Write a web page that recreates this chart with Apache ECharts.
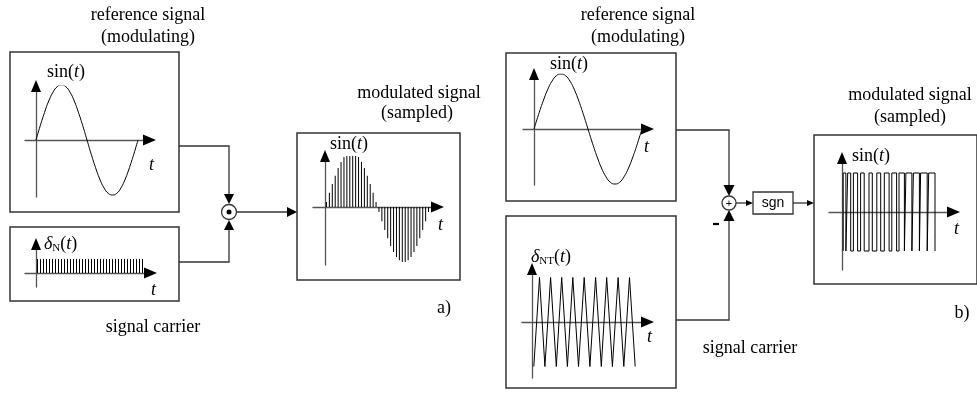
<!DOCTYPE html>
<html>
<head>
<meta charset="utf-8">
<script src="https://cdn.jsdelivr.net/npm/echarts@6/dist/echarts.min.js"></script>
<style>html,body{margin:0;background:#fff}#chart{width:977px;height:393px}</style>
</head>
<body>
<div id="chart"></div>
<script>
"use strict"

// reference (modulating) sine, one period in degrees
const sineDeg = [0,15,30,45,60,75,90,105,120,135,150,165,180,195,210,225,240,255,270,285,300,315,330,345,360];
const sineVal = [0,0.26,0.5,0.71,0.87,0.97,1,0.97,0.87,0.71,0.5,0.26,0,-0.26,-0.5,-0.71,-0.87,-0.97,-1,-0.97,-0.87,-0.71,-0.5,-0.26,0];

// impulse positions of the carrier / sampled signal
const pulseDeg = [5,15,25,35,45,55,65,75,85,95,105,115,125,135,145,155,165,175,
                  185,195,205,215,225,235,245,255,265,275,285,295,305,315,325,335,345,355];
const carrierVal = [1,1,1,1,1,1,1,1,1,1,1,1,1,1,1,1,1,1,1,1,1,1,1,1,1,1,1,1,1,1,1,1,1,1,1,1];
const sampledVal = [0.09,0.26,0.42,0.57,0.71,0.82,0.91,0.97,1,1,0.97,0.91,0.82,0.71,0.57,0.42,0.26,0.09,
                    -0.09,-0.26,-0.42,-0.57,-0.71,-0.82,-0.91,-0.97,-1,-1,-0.97,-0.91,-0.82,-0.71,-0.57,-0.42,-0.26,-0.09];

// triangle carrier vertices
const triDeg = [6,25,43,62,81,99,118,136,155,174,193,212,231,249,268,287,306,325,344];
const triVal = [-1,1,-1,1,-1,1,-1,1,-1,1,-1,1,-1,1,-1,1,-1,1,-1];

// switching instants of the sgn output (starts low, first edge goes up)
const pwmEdges = [4,13,19,29,38,52,62,74,90,101,116,129,141,157,166,182,190,208,213,233,238,258,262,284,289,310];

// pixel frame of each small plot: axis extents, origin, px per unit
const panels = [
    { left: 25,  right: 149, top: 86,  bottom: 197, ox: 36,  oy: 140, sx: 102 / 360, sy: 55 },
    { left: 25,  right: 150, top: 244, bottom: 287, ox: 36,  oy: 273, sx: 0.3, sy: 14 },
    { left: 313, right: 437, top: 156, bottom: 265, ox: 325, oy: 207, sx: 105 / 360, sy: 55 },
    { left: 523, right: 647, top: 74,  bottom: 185, ox: 534, oy: 129, sx: 0.3, sy: 55 },
    { left: 522, right: 647, top: 269, bottom: 378, ox: 532, oy: 322, sx: 0.3, sy: 44.5 },
    { left: 829, right: 953, top: 158, bottom: 270, ox: 842, oy: 212, sx: 0.3, sy: 39 }
];

const axisColor = "#555", wireColor = "#333";
const serif = "Liberation Serif";

const axisLine = { onZero: true, lineStyle: { color: axisColor, width: 1.3 } };

const grids = panels.map(p => ({ left: p.left, top: p.top, width: p.right - p.left, height: p.bottom - p.top }));
const xAxes = panels.map((p, i) => ({
    type: "value", gridIndex: i,
    min: (p.left - p.ox) / p.sx, max: (p.right - p.ox) / p.sx,
    axisLine, axisTick: { show: false }, axisLabel: { show: false }, splitLine: { show: false }
}));
const yAxes = panels.map((p, i) => ({
    type: "value", gridIndex: i,
    min: -(p.bottom - p.oy) / p.sy, max: (p.oy - p.top) / p.sy,
    axisLine, axisTick: { show: false }, axisLabel: { show: false }, splitLine: { show: false }
}));

const pwmData = [[pwmEdges[0], -1]].concat(pwmEdges.map((t, i) => [t, i % 2 === 0 ? 1 : -1]));

const sig = { color: "#000", width: 1 };
const series = [
    { type: "line", xAxisIndex: 0, yAxisIndex: 0, smooth: true, showSymbol: false, lineStyle: sig,
      data: sineDeg.map((d, i) => [d, sineVal[i]]) },
    { type: "bar", xAxisIndex: 1, yAxisIndex: 1, barWidth: 1, itemStyle: { color: "#000" },
      data: pulseDeg.map((d, i) => [d, carrierVal[i]]) },
    { type: "bar", xAxisIndex: 2, yAxisIndex: 2, barWidth: 1, itemStyle: { color: "#000" },
      data: pulseDeg.map((d, i) => [d, sampledVal[i]]) },
    { type: "line", xAxisIndex: 3, yAxisIndex: 3, smooth: true, showSymbol: false, lineStyle: sig,
      data: sineDeg.map((d, i) => [d, sineVal[i]]) },
    { type: "line", xAxisIndex: 4, yAxisIndex: 4, showSymbol: false, lineStyle: sig,
      data: triDeg.map((d, i) => [d, triVal[i]]) },
    { type: "line", xAxisIndex: 5, yAxisIndex: 5, step: "end", showSymbol: false, lineStyle: sig,
      data: pwmData }
];

// ---- block diagram decoration ----
function box(x, y, w, h, lw)
{
    return { type: "rect", shape: { x, y, width: w, height: h }, style: { fill: null, stroke: wireColor, lineWidth: lw || 1.5 }, z: 1 };
}
function wire(points)
{
    return { type: "polyline", shape: { points }, style: { fill: null, stroke: wireColor, lineWidth: 1.3 }, z: 1 };
}
function head(x, y, dir, len, w)
{
    const h = w / 2;
    let pts;
    if (dir === "down") pts = [[x, y], [x - h, y - len], [x + h, y - len]];
    else if (dir === "up") pts = [[x, y], [x - h, y + len], [x + h, y + len]];
    else pts = [[x, y], [x - len, y - h], [x - len, y + h]];
    return { type: "polygon", shape: { points: pts }, style: { fill: "#000" }, z: 2 };
}
function label(text, x, y, opt)
{
    opt = opt || {};
    return {
        type: "text", z: 3,
        style: Object.assign({ text, x, y, fill: "#000", font: `${opt.size || 18}px "${serif}"`,
            align: opt.align || "center", verticalAlign: "middle" }, opt.extra || {})
    };
}
const rich = {
    n: { fontFamily: serif, fontSize: 18, lineHeight: 20 },
    i: { fontFamily: serif, fontSize: 18, fontStyle: "italic", lineHeight: 20 },
    s: { fontFamily: serif, fontSize: 11, lineHeight: 11, verticalAlign: "bottom" }
};
function math(text, x, y)
{
    return { type: "text", z: 3, style: { text, x, y, rich, fill: "#000", align: "left", verticalAlign: "middle" } };
}

// black arrowheads at the end of every plot axis
const axisHeads = [];
panels.forEach(p =>
{
    axisHeads.push(head(p.right + 7, p.oy, "right", 13, 11));
    axisHeads.push(head(p.ox, p.top - 6, "up", 12, 10));
});

const graphic = [
    box(10, 52, 169, 160), box(10, 227, 169, 74), box(297, 133, 163, 147),
    box(506, 53, 170, 148), box(506, 216, 170, 172), box(814, 135, 163, 149),
    // a) multiplier
    wire([[179, 146], [229, 146], [229, 194]]), head(229, 204, "down", 10, 10),
    wire([[179, 262], [229, 262], [229, 230]]), head(229, 220, "up", 10, 10),
    { type: "circle", shape: { cx: 229, cy: 212, r: 7.5 }, style: { fill: "#fff", stroke: wireColor, lineWidth: 1.3 }, z: 2 },
    { type: "circle", shape: { cx: 229, cy: 212, r: 2.5 }, style: { fill: "#000" }, z: 3 },
    wire([[236.5, 212], [288, 212]]), head(297, 212, "right", 10, 10),
    // b) comparator
    wire([[676, 130], [729, 130], [729, 187]]), head(729, 196, "down", 11, 11),
    wire([[676, 320], [729, 320], [729, 220]]), head(729, 210, "up", 11, 11),
    { type: "circle", shape: { cx: 729, cy: 203, r: 7 }, style: { fill: "#fff", stroke: wireColor, lineWidth: 1.3 }, z: 2 },
    label("+", 729, 203.5, { extra: { font: '11px "Liberation Sans"' } }),
    wire([[736, 203], [747, 203]]), head(753, 203, "right", 7, 6),
    box(753, 192, 40, 22, 1.3),
    label("sgn", 773, 203, { extra: { font: '14px "Liberation Sans"' } }),
    wire([[793, 203], [808, 203]]), head(814, 203, "right", 7, 6),
    { type: "polyline", shape: { points: [[713, 224], [719, 224]] }, style: { stroke: "#000", lineWidth: 2.2 }, z: 3 },
    // titles
    label("reference signal", 148, 15), label("(modulating)", 148, 37),
    label("signal carrier", 153, 327),
    label("modulated signal", 419, 93), label("(sampled)", 417, 113),
    label("a)", 444, 308),
    label("reference signal", 638, 15), label("(modulating)", 638, 37),
    label("signal carrier", 750, 348),
    label("modulated signal", 910, 95), label("(sampled)", 910, 117),
    label("b)", 962, 313),
    // axis names
    math("{n|sin(}{i|t}{n|)}", 47, 72),
    math("{i|δ}{s|N}{n|(}{i|t}{n|)}", 44, 244),
    math("{n|sin(}{i|t}{n|)}", 330, 144),
    math("{n|sin(}{i|t}{n|)}", 550, 64),
    math("{i|δ}{s|NT}{n|(}{i|t}{n|)}", 531, 257),
    math("{n|sin(}{i|t}{n|)}", 852, 156),
    math("{i|t}", 149, 165), math("{i|t}", 151, 290), math("{i|t}", 438, 225),
    math("{i|t}", 644, 147), math("{i|t}", 647, 337), math("{i|t}", 954, 229)
].concat(axisHeads);

const chart = echarts.init(document.getElementById("chart"), null, { renderer: "canvas" });
chart.setOption({
    animation: false,
    backgroundColor: "#fff",
    grid: grids,
    xAxis: xAxes,
    yAxis: yAxes,
    series,
    graphic
});
</script>
</body>
</html>
